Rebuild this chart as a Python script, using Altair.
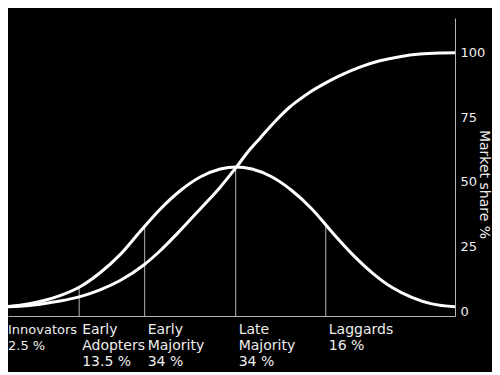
import altair as alt
import pandas as pd

# Bell curve: adopters per period (time in arbitrary units 0-100)
bell_t = [0, 4.4, 8.8, 13.2, 17.6, 22.0, 26.4, 30.8, 35.2, 39.6, 44.0, 48.4, 51.9,
          55.4, 59.8, 64.2, 68.6, 73.0, 77.4, 81.8, 86.2, 90.5, 94.9, 100]
bell_v = [1.8, 2.5, 3.9, 6.2, 9.6, 15.0, 22.0, 30.9, 39.5, 46.6, 51.9, 55.0, 55.8,
          55.0, 51.9, 46.6, 39.5, 30.6, 22.2, 15.0, 9.3, 5.5, 3.0, 1.9]

# S curve: cumulative market share %
s_t = [0, 4.4, 8.8, 13.2, 17.6, 22.0, 26.4, 31.6, 35.2, 39.6, 44.0, 48.4, 51.9, 54.9,
       57.1, 60.7, 63.7, 65.9, 68.1, 71.6, 74.7, 79.1, 83.5, 87.9, 92.3, 96.7, 100]
s_v = [1.8, 2.1, 2.9, 4.1, 5.8, 8.4, 12.0, 18.0, 23.5, 31.3, 39.6, 48.0, 55.6, 62.5,
       66.8, 73.8, 78.9, 81.9, 84.6, 88.2, 91.0, 94.3, 96.7, 98.3, 99.3, 99.7, 99.8]

# Segment boundaries and the bell height there
boundary_x = [17.4, 31.8, 51.8, 71.6]
boundary_top = [9.4, 32.4, 55.8, 33.8]

segment_names = ["Innovators", "Early\nAdopters", "Early\nMajority", "Late\nMajority", "Laggards"]
segment_shares = ["2.5 %", "13.5 %", "34 %", "34 %", "16 %"]

y_ticks = [0, 25, 50, 75, 100]

X_MIN, X_MAX = 1.76, 100
Y_MIN, Y_MAX = -1.66, 113.2

curves = pd.DataFrame({
    "t": bell_t + s_t,
    "v": bell_v + s_v,
    "series": ["adopters"] * len(bell_t) + ["share"] * len(s_t),
})
bounds = pd.DataFrame({"x": boundary_x, "top": boundary_top})
first_label = pd.DataFrame({"x": [X_MIN], "label": [segment_names[0] + "\n" + segment_shares[0]]})
other_labels = pd.DataFrame({
    "x": boundary_x,
    "label": [n + "\n" + s for n, s in zip(segment_names[1:], segment_shares[1:])],
})

FONT = "DejaVu Sans"
TXT = "#eeeeee"
GRID = "#b4b4b4"

xscale = alt.Scale(domain=[X_MIN, X_MAX], nice=False, zero=False)
yscale = alt.Scale(domain=[Y_MIN, Y_MAX], nice=False, zero=False)

xaxis = alt.Axis(labels=False, ticks=False, grid=False, domain=True,
                 domainColor=GRID, domainWidth=1, title=None)
yaxis = alt.Axis(orient="right", values=y_ticks, ticks=False, grid=False,
                 domainColor=GRID, domainWidth=1,
                 labelColor=TXT, labelFontSize=13, labelFont=FONT, labelPadding=5,
                 title="Market share %", titleColor=TXT, titleFontSize=14, titleFont=FONT,
                 titleFontWeight="normal", titleAngle=90, titleX=28, titleY=166,
                 titleAlign="center", titleBaseline="middle")

rules = alt.Chart(bounds).mark_rule(color=GRID, strokeWidth=1).encode(
    x=alt.X("x:Q", scale=xscale, axis=xaxis),
    y=alt.Y("top:Q", scale=yscale, axis=yaxis),
    y2=alt.datum(Y_MIN),
)

lines = alt.Chart(curves).mark_line(color="white", strokeWidth=3, interpolate="monotone",
                                    clip=True).encode(
    x=alt.X("t:Q", scale=xscale, axis=xaxis),
    y=alt.Y("v:Q", scale=yscale, axis=yaxis),
    detail="series:N",
)

text_kw = dict(align="left", baseline="alphabetic", lineBreak="\n",
               lineHeight=16, color=TXT, font=FONT)

t1 = alt.Chart(first_label).mark_text(dx=0, fontSize=13, **text_kw).encode(
    x=alt.X("x:Q", scale=xscale), y=alt.value(316), text="label:N")
t2 = alt.Chart(other_labels).mark_text(dx=3, fontSize=14, **text_kw).encode(
    x=alt.X("x:Q", scale=xscale), y=alt.value(316), text="label:N")

chart = alt.layer(rules, lines, t1, t2).properties(
    width=447, height=298,
    autosize=alt.AutoSizeParams(type="none"),
    padding={"left": 0, "top": 10, "right": 37, "bottom": 56},
    background="black",
).configure_view(strokeWidth=0)

chart.save("out.html", embed_options={"renderer": "svg", "actions": False})
